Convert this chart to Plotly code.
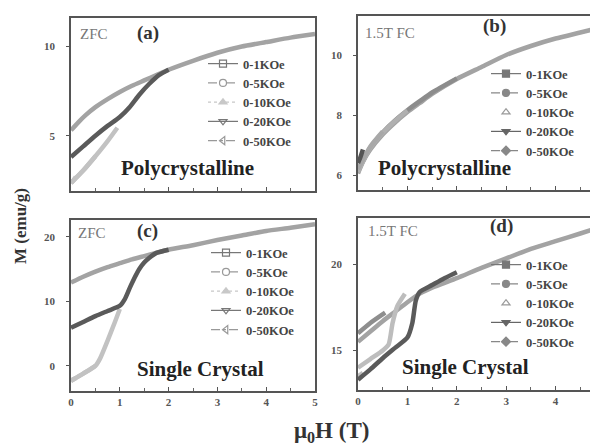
import plotly.graph_objects as go

W, H = 598, 448
SERIF = "Liberation Serif"

# ---------------- data ----------------
series_names = ["0-1KOe", "0-5KOe", "0-10KOe", "0-20KOe", "0-50KOe"]

# Panel (a): ZFC polycrystalline
a_x_1 = [0, 0.05, 0.1];               a_y_1 = [2.35, 2.5, 2.7]
a_x_5 = [0, 0.25, 0.5];               a_y_5 = [2.35, 3.05, 3.85]
a_x_10 = [0, 0.25, 0.5, 0.75, 0.95];  a_y_10 = [2.35, 3.05, 3.85, 4.7, 5.45]
a_x_20 = [0, 0.25, 0.5, 0.75, 1.0, 1.2, 1.4, 1.6, 1.8, 2.0]
a_y_20 = [3.8, 4.4, 5.0, 5.55, 6.05, 6.6, 7.3, 7.9, 8.4, 8.7]
a_x_50 = [0, 0.15, 0.3, 0.5, 0.75, 1.0, 1.25, 1.5, 1.75, 2.0, 2.5, 3.0, 3.5, 4.0, 4.5, 5.0]
a_y_50 = [5.3, 5.75, 6.15, 6.6, 7.05, 7.45, 7.8, 8.1, 8.4, 8.7, 9.2, 9.65, 10.0, 10.25, 10.5, 10.7]

# Panel (b): 1.5T FC polycrystalline
b_x_1 = [0, 0.05, 0.1];               b_y_1 = [6.4, 6.6, 6.85]
b_x_5 = [0, 0.25, 0.5];               b_y_5 = [6.2, 6.95, 7.45]
b_x_10 = [0, 0.25, 0.5, 0.75, 1.0];   b_y_10 = [6.1, 6.9, 7.4, 7.8, 8.15]
b_x_20 = [0, 0.25, 0.5, 0.75, 1.0, 1.25, 1.5, 2.0]
b_y_20 = [6.15, 6.92, 7.42, 7.82, 8.16, 8.46, 8.75, 9.22]
b_x_50 = [0, 0.1, 0.25, 0.5, 0.75, 1.0, 1.25, 1.5, 2.0, 2.5, 3.0, 3.5, 4.0, 4.5, 5.0]
b_y_50 = [6.05, 6.45, 6.85, 7.35, 7.75, 8.1, 8.4, 8.7, 9.2, 9.6, 10.0, 10.3, 10.55, 10.75, 10.95]

# Panel (c): ZFC single crystal
c_x_1 = [0, 0.05, 0.1];               c_y_1 = [-2.3, -2.1, -1.9]
c_x_5 = [0, 0.25, 0.5];               c_y_5 = [-2.3, -1.2, 0.0]
c_x_10 = [0, 0.25, 0.5, 0.6, 0.75, 0.9, 1.0]
c_y_10 = [-2.3, -1.2, 0.0, 1.2, 3.9, 6.8, 8.8]
c_x_20 = [0, 0.25, 0.5, 0.75, 1.0, 1.1, 1.2, 1.3, 1.4, 1.5, 1.6, 1.75, 2.0]
c_y_20 = [5.9, 6.8, 7.7, 8.5, 9.3, 10.3, 12.0, 13.6, 15.0, 16.0, 16.7, 17.5, 18.0]
c_x_50 = [0, 0.25, 0.5, 0.75, 1.0, 1.25, 1.5, 1.75, 2.0, 2.5, 3.0, 3.5, 4.0, 4.5, 5.0]
c_y_50 = [12.9, 13.8, 14.6, 15.3, 15.9, 16.5, 17.0, 17.5, 18.0, 18.7, 19.5, 20.2, 20.9, 21.4, 21.95]

# Panel (d): 1.5T FC single crystal
d_x_1 = [0, 0.05, 0.1];               d_y_1 = [13.5, 13.6, 13.7]
d_x_5 = [0, 0.25, 0.55];              d_y_5 = [16.0, 16.6, 17.2]
d_x_10 = [0, 0.25, 0.5, 0.62, 0.7, 0.8, 0.95]
d_y_10 = [14.0, 14.5, 15.0, 15.35, 16.6, 17.6, 18.3]
d_x_20 = [0, 0.25, 0.5, 0.75, 1.0, 1.1, 1.17, 1.25, 1.5, 1.75, 2.0]
d_y_20 = [13.3, 13.9, 14.55, 15.15, 15.75, 16.6, 17.9, 18.4, 18.8, 19.2, 19.55]
d_x_50 = [0, 0.25, 0.5, 0.75, 1.0, 1.25, 1.5, 2.0, 2.5, 3.0, 3.5, 4.0, 4.5, 5.0]
d_y_50 = [15.5, 16.1, 16.7, 17.25, 17.8, 18.3, 18.65, 19.2, 19.8, 20.35, 20.9, 21.35, 21.8, 22.25]

# tick labels
x_ticks = [0, 1, 2, 3, 4, 5]
a_yticks = [5, 10]
b_yticks = [6, 8, 10]
c_yticks = [0, 10, 20]
d_yticks = [15, 20]

# ---------------- styling ----------------
zfc_colors = ["#c4c4c4", "#c4c4c4", "#c2c2c2", "#5a5a5a", "#a3a3a3"]
fc_colors_b = ["#555555", "#a8a8a8", "#b0b0b0", "#8c8c8c", "#a3a3a3"]
fc_colors_d = ["#c0c0c0", "#8e8e8e", "#bdbdbd", "#5a5a5a", "#a3a3a3"]
LW = 4.5

def px_x(p):
    return p / W

def px_y(p):
    return 1 - p / H

panels = {
    "a": dict(xd=(63, 307), yd=(10, 183), yr=(1.9, 11.6), yt=a_yticks, xlab=False, cols=zfc_colors,
              order=[0, 1, 4, 3, 2],
              data=[(a_x_1, a_y_1), (a_x_5, a_y_5), (a_x_10, a_y_10), (a_x_20, a_y_20), (a_x_50, a_y_50)]),
    "b": dict(xd=(350, 597), yd=(8, 182), yr=(5.5, 11.3), yt=b_yticks, xlab=False, cols=fc_colors_b,
              order=[4, 3, 2, 1, 0],
              data=[(b_x_1, b_y_1), (b_x_5, b_y_5), (b_x_10, b_y_10), (b_x_20, b_y_20), (b_x_50, b_y_50)]),
    "c": dict(xd=(63, 307), yd=(212, 383), yr=(-3.9, 22.6), yt=c_yticks, xlab=True, cols=zfc_colors,
              order=[0, 1, 4, 2, 3],
              data=[(c_x_1, c_y_1), (c_x_5, c_y_5), (c_x_10, c_y_10), (c_x_20, c_y_20), (c_x_50, c_y_50)]),
    "d": dict(xd=(350, 597), yd=(210, 382), yr=(12.7, 22.7), yt=d_yticks, xlab=True, cols=fc_colors_d,
              order=[0, 4, 3, 2, 1],
              data=[(d_x_1, d_y_1), (d_x_5, d_y_5), (d_x_10, d_y_10), (d_x_20, d_y_20), (d_x_50, d_y_50)]),
}

fig = go.Figure()
layout = dict(width=W, height=H, paper_bgcolor="white", plot_bgcolor="white",
              margin=dict(l=0, r=0, t=0, b=0, autoexpand=False), showlegend=True)

axis_common = dict(showline=True, linecolor="#555", linewidth=1.5, mirror=True,
                   showgrid=False, zeroline=False)

for i, (key, p) in enumerate(panels.items()):
    n = "" if i == 0 else str(i + 1)
    xa, ya = "x" + n, "y" + n
    for k in p["order"]:
        xs, ys = p["data"][k]
        fig.add_trace(go.Scatter(x=xs, y=ys, mode="lines", xaxis=xa, yaxis=ya,
                                 line=dict(color=p["cols"][k], width=LW,
                                           shape="spline", smoothing=0.6),
                                 showlegend=False, hoverinfo="skip"))
    layout["xaxis" + n] = dict(axis_common, domain=[px_x(p["xd"][0]), px_x(p["xd"][1])],
                               range=[0, 5], anchor=ya, tickvals=x_ticks,
                               showticklabels=p["xlab"], ticks="inside", ticklen=4,
                               tickcolor="#555",
                               minor=dict(dtick=0.5, ticks="inside", ticklen=3, tickcolor="#666"),
                               tickfont=dict(family=SERIF, size=11, color="#555", weight="bold"))
    layout["yaxis" + n] = dict(axis_common, domain=[px_y(p["yd"][1]), px_y(p["yd"][0])],
                               range=list(p["yr"]), anchor=xa, tickvals=p["yt"],
                               ticks="outside", ticklen=3, tickcolor="#555", ticklabelstandoff=9,
                               tickfont=dict(family=SERIF, size=11, color="#555", weight="bold"))

# legend entries
open_syms = ["square-open", "circle-open", "triangle-up", "triangle-down-open", "triangle-left-open"]
open_dash = ["solid", "dash", "dot", "solid", "dashdot"]
open_cols = ["#777", "#999", "#c8c8c8", "#777", "#999"]
fill_syms = ["square", "circle", "triangle-up-open", "triangle-down", "diamond"]
fill_dash = ["solid", "dash", None, "solid", "dash"]
fill_cols = ["#777", "#888", "#999", "#666", "#888"]

legend_pos = {"a": (195, 41), "b": (478, 51), "c": (198, 230), "d": (478, 242)}
for i, key in enumerate(panels):
    lname = "legend" if i == 0 else "legend" + str(i + 1)
    is_open = key in ("a", "c")
    syms = open_syms if is_open else fill_syms
    dashes = open_dash if is_open else fill_dash
    cols = open_cols if is_open else fill_cols
    for k, name in enumerate(series_names):
        mode = "lines+markers" if dashes[k] else "markers"
        fig.add_trace(go.Scatter(x=[None], y=[None], name=name, mode=mode, legend=lname,
                                 xaxis="x" + ("" if i == 0 else str(i + 1)),
                                 yaxis="y" + ("" if i == 0 else str(i + 1)),
                                 line=dict(color=cols[k], width=1.2, dash=dashes[k] or "solid"),
                                 marker=dict(symbol=syms[k], size=7, color=cols[k],
                                             line=dict(color=cols[k], width=1.2))))
    lx, ly = legend_pos[key]
    layout[lname] = dict(x=lx / W, y=1 - ly / H, xref="container", yref="container",
                         xanchor="left", yanchor="top", bgcolor="rgba(0,0,0,0)",
                         borderwidth=0, itemwidth=30, tracegroupgap=0,
                         font=dict(family=SERIF, size=12.5, color="#444", weight="bold"))

# annotations
ann = []
def add_text(text, x, y, size, color="#222", bold=True, angle=0):
    ann.append(dict(text=text, x=x / W, y=1 - y / H, xref="paper", yref="paper",
                    showarrow=False, textangle=angle, xanchor="center", yanchor="middle",
                    font=dict(family=SERIF, size=size, color=color,
                              weight="bold" if bold else "normal")))

add_text("ZFC", 86, 26, 15, "#777", bold=False)
add_text("(a)", 140, 25, 19, "#333")
add_text("Polycrystalline", 179, 160, 21, "#222")
add_text("1.5T FC", 382, 25, 15, "#777", bold=False)
add_text("(b)", 486, 18, 19, "#333")
add_text("Polycrystalline", 436, 160, 21, "#222")
add_text("ZFC", 84, 225, 15, "#777", bold=False)
add_text("(c)", 139, 223, 19, "#333")
add_text("Single Crystal", 192, 361, 21, "#222")
add_text("1.5T FC", 385, 223, 15, "#777", bold=False)
add_text("(d)", 493, 218, 19, "#333")
add_text("Single Crystal", 457, 359, 21, "#222")
add_text("M (emu/g)", 13, 218, 17, "#333", angle=-90)
add_text("μ<sub>0</sub>H (T)", 323, 424, 23, "#333")

layout["annotations"] = ann
fig.update_layout(**layout)
fig.write_html("out.html")
